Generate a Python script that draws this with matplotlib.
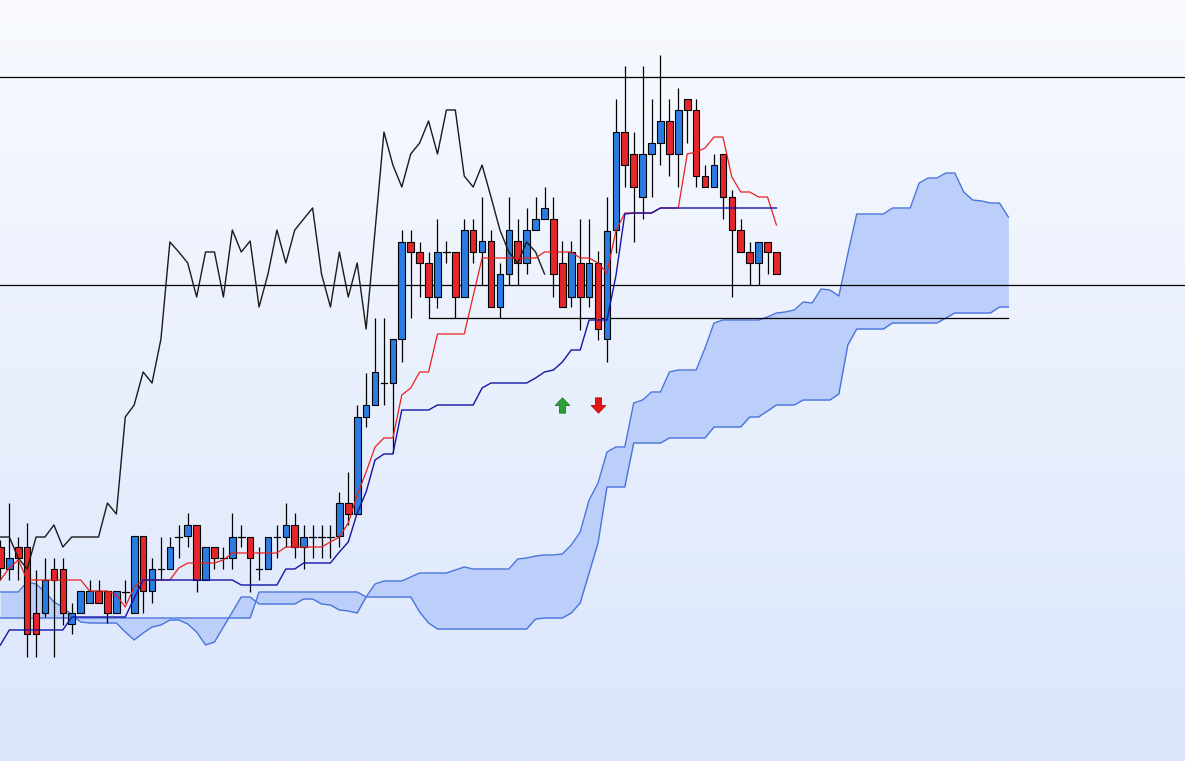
import numpy as np
import matplotlib
matplotlib.use("Agg")
import matplotlib.pyplot as plt
from matplotlib.path import Path
from matplotlib.patches import Rectangle
from matplotlib.colors import LinearSegmentedColormap

# ---------------- data (price units) ----------------
opens = [214,192,214,214,148,148,192,192,137,148,
         158,170,170,148,169,148,225,170,192,192,
         224,225,236,181,214,203,203,224,224,192,
         192,224,224,236,214,224,224,224,225,258,
         247,344,356,378,378,422,519,509,498,464,
         509,509,464,531,509,520,454,487,520,498,
         531,542,542,498,464,498,464,498,422,531,
         629,607,564,607,618,640,607,662,651,585,
         574,607,564,531,509,498,519,509]
highs = [221,258,224,238,191,203,203,203,158,170,
         181,181,170,170,181,225,225,203,224,224,
         236,248,236,214,214,214,248,236,224,214,
         224,236,258,248,236,236,236,236,269,289,
         356,388,443,443,422,531,531,519,509,542,
         520,509,542,542,564,531,498,564,542,553,
         564,574,564,520,520,542,542,510,564,662,
         695,629,695,662,706,662,673,662,662,596,
         607,607,571,542,519,519,519,509]
lows = [181,181,181,104,104,144,104,136,127,148,
        158,158,138,148,158,148,148,158,181,192,
        203,214,169,181,192,192,192,214,169,181,
        192,203,214,203,192,203,203,203,214,236,
        247,334,356,356,308,399,443,464,443,453,
        498,443,464,498,476,454,443,476,476,487,
        531,542,464,454,454,431,454,421,399,508,
        574,519,542,564,596,585,574,618,574,574,
        574,542,464,509,476,476,487,487]
closes = [193,203,203,127,127,181,181,148,148,170,
          170,158,148,170,170,225,170,192,193,214,
          225,236,181,214,203,203,224,224,203,192,
          224,224,236,214,224,224,224,224,258,247,
          344,356,389,378,422,519,509,498,464,509,
          509,464,531,509,520,454,487,531,498,531,
          542,553,487,454,509,464,498,432,530,629,
          596,574,607,618,640,607,651,651,585,574,
          596,564,531,509,498,519,509,487]

tenkan = [181,193,201,181,181,181,181,181,181,181,
          170,170,170,166,154,174,181,181,181,181,
          193,198,198,198,198,201,208,208,208,208,
          208,208,214,214,214,214,214,219,224,238,
          266,289,314,323,323,366,373,389,389,427,
          427,427,427,465,503,503,503,503,503,503,
          503,509,509,509,509,503,503,498,488,530,
          548,548,548,548,553,553,553,607,609,613,
          624,624,584,569,569,564,564,536]
kijun = [116,131,131,131,131,131,131,131,144,144,
         144,144,144,144,144,163,181,181,181,181,
         181,181,181,181,181,181,181,176,176,176,
         176,176,192,192,198,198,198,198,209,219,
         248,269,301,307,307,351,351,351,351,356,
         356,356,356,356,373,378,378,378,378,378,
         383,389,391,399,411,411,441,441,441,485,
         547,548,548,548,553,553,553,553,553,553,
         553,553,553,553,553,553,553,553]
span_a = [169,169,169,179,177,169,159,154,146,139,
          138,138,138,138,129,121,128,134,136,141,
          141,137,129,116,119,134,149,164,164,157,
          157,157,157,157,162,162,157,156,151,150,
          148,164,177,180,180,180,184,188,188,188,
          188,191,194,192,192,192,192,192,202,203,
          205,206,206,207,216,229,261,278,309,314,
          314,358,361,369,369,389,391,391,391,413,
          438,441,441,441,441,441,444,448,449,451,
          459,458,472,471,465,507,547,547,547,547,
          553,553,553,578,583,583,588,588,569,561,
          560,558,558,544]
span_b = ([143] * 29 + [169] * 12 + [164] * 6 + [149, 138] + [132] * 11 +
          [142, 143, 143, 143, 148, 158, 188, 218] + [274] * 3 + [318] * 4 +
          [323] * 5 + [334] * 4 + [344] * 2 + [350] + [356] * 3 + [361] * 4 +
          [367, 416] + [432] * 4 + [438] * 6 + [443] + [448] * 5 + [454] * 2)

chikou_shift = 26
levels_full = [684, 476]          # horizontal lines across the chart
level_partial = 443               # support line
level_partial_start = 48
signal_up = (63, 356)
signal_down = (67, 356)

# ---------------- figure ----------------
W, H = 1185, 761
fig = plt.figure(figsize=(W / 100, H / 100), dpi=100)
ax = fig.add_axes([0, 0, 1, 1])
px = 8.92
x_left = -0.4 / px
x_right = (W - 0.4) / px
ax.set_xlim(x_left, x_right)
ax.set_ylim(0, H)
ax.axis("off")

# background gradient
cmap = LinearSegmentedColormap.from_list("bg", ["#dbe6fb", "#f8faff"])
grad = np.linspace(0, 1, 256).reshape(-1, 1)
ax.imshow(grad, aspect="auto", cmap=cmap, origin="lower",
          extent=[x_left, x_right, 0, H], zorder=0)

n = len(closes)
idx = np.arange(n)
ci = np.arange(len(span_a))
sa = np.array(span_a, dtype=float)
sb = np.array(span_b, dtype=float)

# cloud
ax.fill_between(ci, sa, sb, color="#bccffa", lw=0, zorder=1)
ax.plot(ci, sa, color="#4a74dc", lw=1.0, zorder=2)
ax.plot(ci, sb, color="#4a74dc", lw=1.0, zorder=2)

# horizontal levels
for lv in levels_full:
    ax.axhline(lv, color="black", lw=0.9, zorder=3)
ax.plot([level_partial_start, ci[-1]], [level_partial, level_partial],
        color="black", lw=0.9, zorder=3)

# candles
bw = 0.74
for i in range(n):
    o, h, l, c = opens[i], highs[i], lows[i], closes[i]
    ax.plot([i, i], [l, h], color="black", lw=0.9, zorder=4,
            solid_capstyle="butt")
    up = c >= o
    col = "#2a7ce2" if up else "#e5262b"
    lo, hi = min(o, c), max(o, c)
    if hi - lo < 1.2:
        ax.plot([i - bw / 2, i + bw / 2], [o, o], color="black", lw=0.9, zorder=5)
    else:
        ax.add_patch(Rectangle((i - bw / 2, lo), bw, hi - lo, facecolor=col,
                               edgecolor="black", lw=0.8, zorder=5))

# chikou span (close shifted back)
ch = np.array(closes[chikou_shift:], dtype=float)
ax.plot(np.arange(len(ch)), ch, color="#1a1a1a", lw=1.0, zorder=6)

# tenkan / kijun
ax.plot(idx, tenkan, color="#e8211f", lw=0.9, zorder=6)
ax.plot(idx, kijun, color="#1414a8", lw=1.0, zorder=7)

# signal arrows
up_arrow = Path([(0, 1), (0.95, 0.0), (0.4, 0.0), (0.4, -1), (-0.4, -1),
                 (-0.4, 0.0), (-0.95, 0.0), (0, 1)],
                [Path.MOVETO] + [Path.LINETO] * 6 + [Path.CLOSEPOLY])
down_arrow = Path([(x, -y) for x, y in up_arrow.vertices], up_arrow.codes)
ax.plot([signal_up[0]], [signal_up[1]], marker=up_arrow, ms=11,
        color="#2ea03a", mec="#1c7a26", mew=0.6, zorder=8)
ax.plot([signal_down[0]], [signal_down[1]], marker=down_arrow, ms=11,
        color="#e81414", mec="#b00c0c", mew=0.6, zorder=8)

fig.savefig("out.png", dpi=100)
